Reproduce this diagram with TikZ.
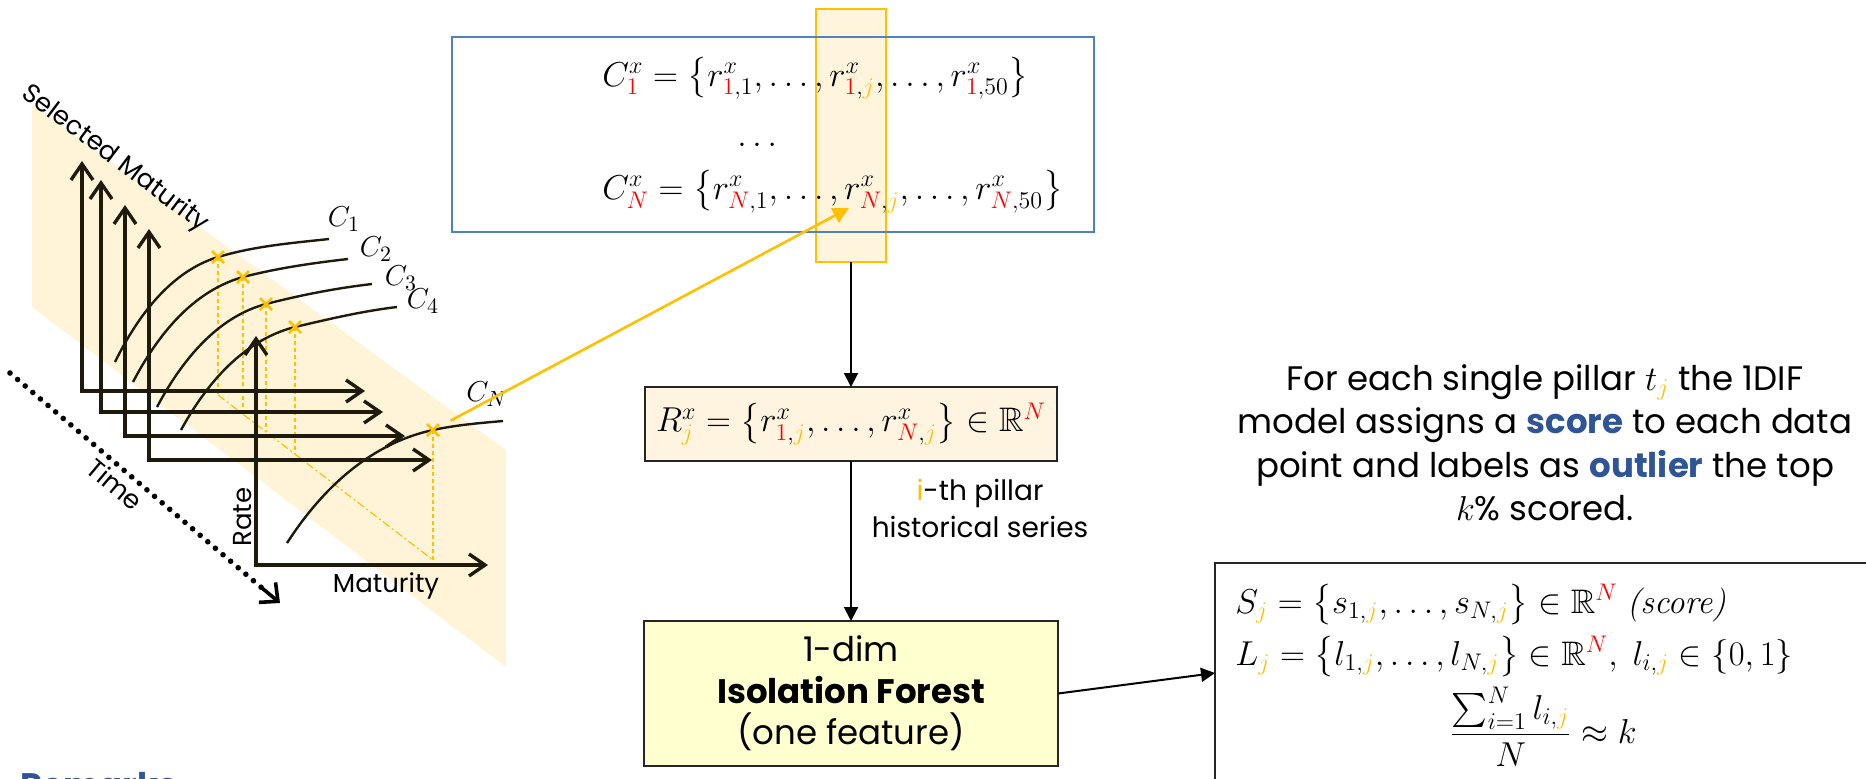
\documentclass[tikz,border=0pt]{standalone}
\usepackage{amsmath,amssymb}
\usepackage{fontspec}
\setmainfont{Poppins}
\newfontfamily\lmrfam{Latin Modern Roman}
\usetikzlibrary{arrows.meta}
\definecolor{gold}{HTML}{FFC000}
\definecolor{bandc}{HTML}{FFF4D8}
\definecolor{hlfill}{HTML}{FFF4DC}
\definecolor{rfill}{HTML}{FEF4E0}
\definecolor{iffill}{HTML}{FFFFD0}
\definecolor{bluebox}{HTML}{4F81BD}
\definecolor{dblue}{HTML}{2F5597}
\definecolor{axc}{HTML}{1E1A0C}
\newcommand\myred[1]{{\color{red}#1}}
\newcommand\mygold[1]{{\color{gold}#1}}
\newcommand\fsM{\fontsize{17}{20}\selectfont}
\newcommand\fsB{\fontsize{17}{21.75}\selectfont}
\newcommand\fsL{\fontsize{13}{16}\selectfont}
\newcommand\fsC{\fontsize{15}{18}\selectfont}
\begin{document}
\begin{tikzpicture}[x=0.5pt,y=-0.5pt,
  axis/.style={draw=axc,line width=1.7pt,line join=miter,
    arrows={Straight Barb[length=8pt,width=11pt]-Straight Barb[length=8pt,width=11pt]}},
  curve/.style={draw=axc,line width=1.2pt},
  xm/.style={draw=gold,line width=1.3pt},
  gdash/.style={draw=gold,line width=0.6pt,dash pattern=on 2pt off 1.5pt},
  gdashdot/.style={draw=gold,line width=0.6pt,dash pattern=on 4pt off 1.5pt on 1pt off 1.5pt},
  flow/.style={draw=black,line width=1pt,-{Triangle[length=7pt,width=7pt]}},
  garrow/.style={draw=gold,line width=1.3pt,-{Triangle[length=8pt,width=8pt]}},
  timeline/.style={draw=black,line width=2.8pt,line cap=round,dash pattern=on 0pt off 5pt},
  timehead/.style={draw=black,line width=1.8pt,-{Straight Barb[length=7pt,width=13pt]}},
  lbl/.style={font=\fsL,inner sep=0pt},
  clbl/.style={font=\fsC,inner sep=0pt},
  boxbase/.style={inner sep=0pt,outer sep=0pt}
]
\useasboundingbox (0,0) rectangle (1866,778);

% ---------- left scene ----------
\fill[bandc] (32,104) -- (506,450) -- (506,667) -- (32,307) -- cycle;

\draw[gdash] (218,257) -- (218,395);
\draw[gdash] (243,277) -- (243,414);
\draw[gdash] (266,304) -- (266,432);
\draw[gdash] (295,327) -- (295,454);
\draw[gdash] (433,430) -- (433,560);
\draw[gdashdot] (218,395) -- (433,560);

\draw[axis] (82,161) -- (82,391) -- (365,391);
\draw[axis] (101,180) -- (101,412) -- (383,412);
\draw[axis] (125,205) -- (125,436) -- (405,436);
\draw[axis] (149,229) -- (149,460) -- (432,460);
\draw[axis] (256,336) -- (256,565) -- (488,565);

\draw[curve] (115,362) .. controls (146,299) and (182,268) .. (218,257) .. controls (255,246) and (292,243) .. (329,239);
\draw[curve] (133,382) .. controls (166,319) and (204,288) .. (243,277) .. controls (278,268) and (313,263) .. (348,259);
\draw[curve] (157,407) .. controls (190,345) and (228,314) .. (266,304) .. controls (301,295) and (337,288) .. (372,284);
\draw[curve] (181,430) .. controls (215,368) and (255,337) .. (295,327) .. controls (329,319) and (363,311) .. (397,307);
\draw[curve] (287,543) .. controls (331,475) and (382,441) .. (433,430) .. controls (456,425) and (480,423) .. (503,421);

\foreach \p in {(218,257),(243,277),(266,304),(295,327),(433,430)}{
  \draw[xm] \p ++(-6,-6) -- ++(12,12) ++(-12,0) -- ++(12,-12);
}

\coordinate (tstart) at (10,373);
\coordinate (tpre) at (262,588);
\coordinate (tend) at (280,603);
\draw[timeline] (tstart) -- (tpre);
\draw[timehead] (tpre) -- (tend);

\node[lbl,rotate=-37] (selmat) at (115,159) {Selected Maturity};
\node[lbl,rotate=-40] (time) at (115,484) {Time};
\node[lbl,rotate=90] (rate) at (243,517) {Rate};
\node[lbl] (matur) at (386,586) {Maturity};
\node[clbl] (c1) at (344,219) {$C_1$};
\node[clbl] (c2) at (376,249) {$C_2$};
\node[clbl] (c3) at (401,278) {$C_3$};
\node[clbl] (c4) at (423,301) {$C_4$};
\node[clbl] (cn) at (487,394) {$C_N$};

\node[anchor=base west,font=\fsB\bfseries,text=dblue,inner sep=0pt] (rem) at (20,797) {Remarks};

% ---------- centre ----------
\node[boxbase,draw=gold,line width=0.6pt,fill=hlfill,minimum width=35pt,minimum height=126.5pt] (hl) at (851,135.5) {};
\node[boxbase,draw=bluebox,line width=1pt,minimum width=321pt,minimum height=97.5pt] (cbox) at (773,134.5) {};

\node[anchor=base west,font=\fsM,inner sep=0pt] (eq1) at (602,86)
  {$C^x_{\myred{1}} = \bigl\{r^x_{\myred{1},1},\dots,r^x_{\myred{1},\mygold{j}},\dots,r^x_{\myred{1},50}\bigr\}$};
\node[anchor=base,font=\fsM,inner sep=0pt] (vdots) at (760,146) {$\dots$};
\node[anchor=base west,font=\fsM,inner sep=0pt] (eq2) at (602,199)
  {$C^x_{\myred{N}} = \bigl\{r^x_{\myred{N},1},\dots,r^x_{\myred{N},\mygold{j}},\dots,r^x_{\myred{N},50}\bigr\}$};

\node[boxbase,draw=black!85,line width=1pt,fill=rfill,minimum width=206pt,minimum height=37pt,font=\fsM] (rbox) at (851,424)
  {$R^x_{\mygold{j}} = \bigl\{r^x_{\myred{1},\mygold{j}},\dots,r^x_{\myred{N},\mygold{j}}\bigr\} \in \mathbb{R}^{\myred{N}}$};

\node[boxbase,draw=black!85,line width=1pt,fill=iffill,minimum width=207pt,minimum height=72.5pt,
  align=center,font=\fontsize{17}{20.75}\selectfont] (ifbox) at (851,693.5)
  {1-dim\\\textbf{Isolation Forest}\\(one feature)};

\node[align=center,font=\fontsize{14}{18.5}\selectfont,inner sep=0pt] (pill) at (980,508)
  {{\color{gold}i}-th pillar\\historical series};

\draw[flow] (hl.south) -- (rbox.north);
\draw[flow] (rbox.south) -- (ifbox.north);

\coordinate (xN) at (433,430);
\coordinate (rNj) at (849,208);
\draw[garrow,shorten <=10pt] (xN) -- (rNj);

% ---------- right ----------
\node[align=center,font=\fsB,inner sep=0pt] (para) at (1545,443)
  {For each single pillar $t_{\mygold{j}}$ the 1DIF\\
   model assigns a \textbf{\color{dblue}score} to each data\\
   point and labels as \textbf{\color{dblue}outlier} the top\\
   $k$\% scored.};

\node[boxbase,draw=black!85,line width=0.8pt,minimum width=332.5pt,minimum height=118.5pt] (resbox) at (1547.5,681.5) {};
\coordinate (rtip) at (1215,673);
\draw[flow] (ifbox.east) -- (rtip);

\node[anchor=base west,font=\fsM,inner sep=0pt] (sj) at (1235,613)
  {$S_{\mygold{j}} = \bigl\{s_{1,\mygold{j}},\dots,s_{N,\mygold{j}}\bigr\} \in \mathbb{R}^{\myred{N}}$\ {\lmrfam\itshape (score)}};
\node[anchor=base west,font=\fsM,inner sep=0pt] (lj) at (1235,665)
  {$L_{\mygold{j}} = \bigl\{l_{1,\mygold{j}},\dots,l_{N,\mygold{j}}\bigr\} \in \mathbb{R}^{\myred{N}},\ l_{i,\mygold{j}} \in \{0,1\}$};
\node[anchor=base,font=\fsM,inner sep=0pt] (frac) at (1543,743)
  {$\dfrac{\textstyle\sum_{i=1}^{N} l_{i,\mygold{j}}}{N} \approx k$};
\end{tikzpicture}
\end{document}
